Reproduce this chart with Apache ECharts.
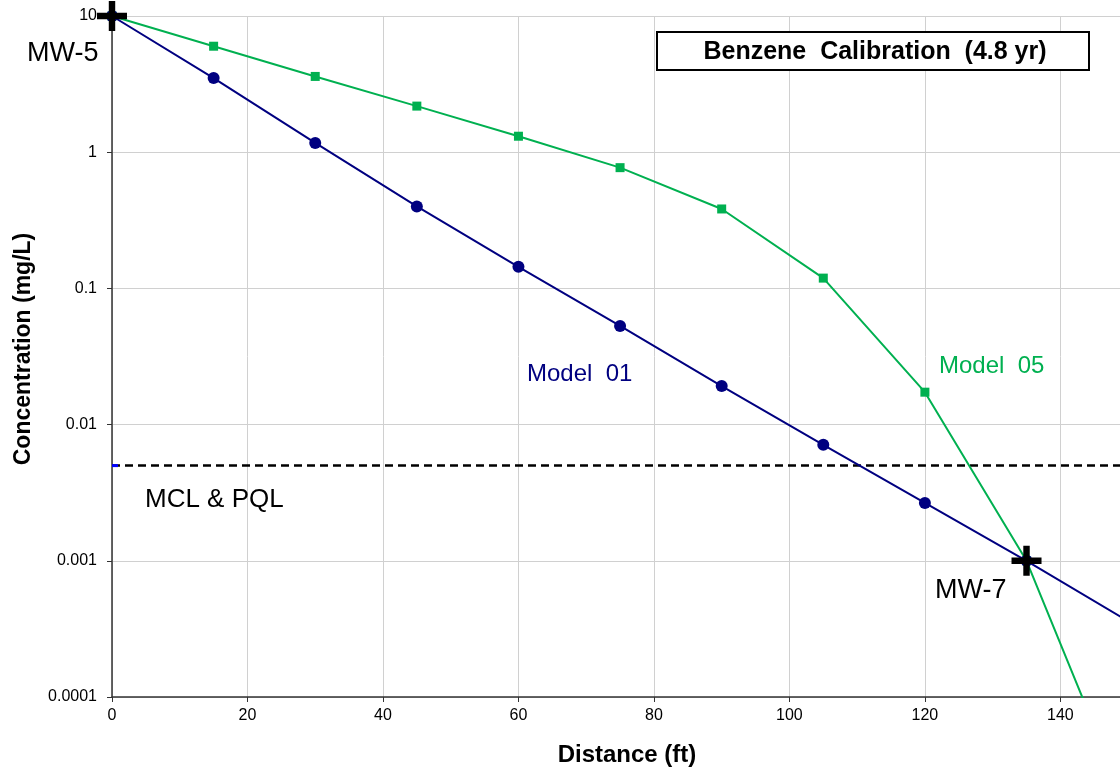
<!DOCTYPE html>
<html>
<head>
<meta charset="utf-8">
<script src="https://cdn.jsdelivr.net/npm/echarts@6/dist/echarts.min.js"></script>
<style>
  html, body { margin: 0; padding: 0; background: #fff; }
  #chart { width: 1120px; height: 770px; }
</style>
</head>
<body>
<div id="chart"></div>
<script>
// distances (ft)
const distance = [0, 15, 30, 45, 60, 75, 90, 105, 120, 135, 150];
// concentrations (mg/L)
const model01 = [10, 3.5, 1.17, 0.40, 0.144, 0.053, 0.0192, 0.0071, 0.00266, 0.001, 0.00036];
const model05 = [10, 6.0, 3.6, 2.18, 1.31, 0.77, 0.383, 0.119, 0.0173, 0.001, 0.000015];
const mclLine = [[0, 0.005], [150, 0.005]];
const wells = [[0, 10], [135, 0.001]];
const yTicks = [0.0001, 0.001, 0.01, 0.1, 1, 10];

const chart = echarts.init(document.getElementById('chart'));
const font = 'Arial, "Liberation Sans", sans-serif';
const plus = 'path://M11,0 L17,0 L17,11 L28,11 L28,17 L17,17 L17,28 L11,28 L11,17 L0,17 L0,11 L11,11 Z';

const pair = (arr) => distance.map((d, i) => [d, arr[i]]);

chart.setOption({
  animation: false,
  grid: { left: 112, top: 16, right: 0, bottom: 73, containLabel: false, outerBoundsMode: 'none' },
  xAxis: {
    type: 'value', min: 0, max: 148.8, interval: 20,
    axisLine: { lineStyle: { color: '#333', width: 1.5 } },
    axisTick: { show: true, length: 5, lineStyle: { color: '#333' } },
    axisLabel: {
      fontFamily: font, fontSize: 16, color: '#000', margin: 11,
      formatter: v => (v % 20 === 0 ? String(v) : '')
    },
    splitLine: { lineStyle: { color: '#d0d0d0', width: 1 } }
  },
  yAxis: {
    type: 'log', logBase: 10, min: 0.0001, max: 10,
    axisLine: { show: true, lineStyle: { color: '#333', width: 1.5 } },
    axisTick: { show: true, inside: false, length: 5, lineStyle: { color: '#333' } },
    minorTick: { show: false },
    axisLabel: {
      fontFamily: font, fontSize: 16, color: '#000', margin: 15,
      formatter: v => {
        const t = yTicks.find(k => Math.abs(Math.log10(k) - Math.log10(v)) < 1e-6);
        return t === undefined ? '' : String(t);
      }
    },
    splitLine: { lineStyle: { color: '#d0d0d0', width: 1 } }
  },
  series: [
    {
      name: 'MCL & PQL', type: 'line', data: mclLine, symbol: 'none', clip: true,
      lineStyle: { color: '#000', width: 2.5, type: [8, 5] }, z: 2
    },
    {
      // little blue tick where the MCL line starts
      name: 'MCL start', type: 'scatter', data: [mclLine[0]], clip: false,
      symbol: 'rect', symbolSize: [6, 3], symbolOffset: [3, 0],
      itemStyle: { color: '#0000ff', opacity: 1 }, z: 3
    },
    {
      name: 'Model 05', type: 'line', data: pair(model05), clip: true,
      symbol: 'rect', symbolSize: 9,
      itemStyle: { color: '#00b050' },
      lineStyle: { color: '#00b050', width: 2 }, z: 3
    },
    {
      name: 'Model 01', type: 'line', data: pair(model01), clip: true,
      symbol: 'circle', symbolSize: 12,
      itemStyle: { color: '#000080' },
      lineStyle: { color: '#000080', width: 2 }, z: 4
    },
    {
      name: 'Wells', type: 'scatter', data: wells, clip: false,
      symbol: plus, symbolSize: [30, 30],
      itemStyle: { color: '#000', opacity: 1 }, z: 10
    }
  ],
  graphic: [
    {
      type: 'rect', shape: { x: 657, y: 32, width: 432, height: 38 },
      style: { fill: '#fff', stroke: '#000', lineWidth: 2 }, z: 10
    },
    {
      type: 'text', x: 875, y: 52, z: 11,
      style: { text: 'Benzene  Calibration  (4.8 yr)', font: 'bold 25px ' + font, fill: '#000', align: 'center', verticalAlign: 'middle' }
    },
    {
      type: 'text', x: 627, y: 755, z: 11,
      style: { text: 'Distance (ft)', font: 'bold 24px ' + font, fill: '#000', align: 'center', verticalAlign: 'middle' }
    },
    {
      type: 'text', x: 24, y: 349, rotation: Math.PI / 2, z: 11,
      style: { text: 'Concentration (mg/L)', font: 'bold 23px ' + font, fill: '#000', align: 'center', verticalAlign: 'middle' }
    },
    {
      type: 'text', x: 27, y: 54, z: 11,
      style: { text: 'MW-5', font: '27px ' + font, fill: '#000', verticalAlign: 'middle' }
    },
    {
      type: 'text', x: 527, y: 374, z: 11,
      style: { text: 'Model  01', font: '24px ' + font, fill: '#000080', verticalAlign: 'middle' }
    },
    {
      type: 'text', x: 939, y: 366, z: 11,
      style: { text: 'Model  05', font: '24px ' + font, fill: '#00b050', verticalAlign: 'middle' }
    },
    {
      type: 'text', x: 145, y: 500, z: 11,
      style: { text: 'MCL & PQL', font: '26px ' + font, fill: '#000', verticalAlign: 'middle' }
    },
    {
      type: 'text', x: 935, y: 591, z: 11,
      style: { text: 'MW-7', font: '27px ' + font, fill: '#000', verticalAlign: 'middle' }
    }
  ]
});
</script>
</body>
</html>
